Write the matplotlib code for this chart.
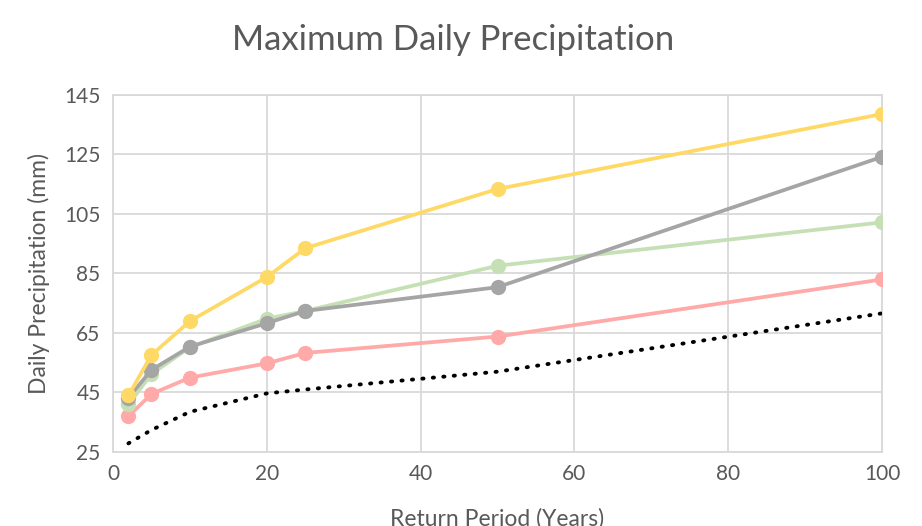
import matplotlib
matplotlib.use("Agg")
import matplotlib.pyplot as plt

# return periods (years) and maximum daily precipitation (mm) per series
return_period = [2, 5, 10, 20, 25, 50, 100]
series_pink = [37.0, 44.5, 50.0, 54.8, 58.3, 63.8, 83.0]
series_green = [41.0, 51.2, 60.2, 69.8, 72.4, 87.6, 102.2]
series_gray = [43.2, 52.6, 60.4, 68.3, 72.4, 80.4, 124.2]
series_yellow = [44.0, 57.6, 69.0, 83.8, 93.5, 113.4, 138.6]
baseline = [27.9, 32.4, 38.5, 44.7, 46.0, 52.0, 71.6]

y_ticks = [25, 45, 65, 85, 105, 125, 145]
x_ticks = [0, 20, 40, 60, 80, 100]

TEXT = "#595959"
GRID = "#d9d9d9"

plt.rcParams["font.family"] = ["Lato", "DejaVu Sans"]

fig = plt.figure(figsize=(9.22, 5.26), dpi=100)
ax = fig.add_axes([0.1226, 0.1407, 0.834, 0.6787])

styles = [
    (series_pink, "#ffa9a9"),
    (series_green, "#c5e0b4"),
    (series_gray, "#a5a5a5"),
    (series_yellow, "#ffd966"),
]
for values, color in styles:
    ax.plot(return_period, values, color=color, linewidth=2.7,
            marker="o", markersize=11, markeredgewidth=0, zorder=3,
            solid_capstyle="round")

ax.plot(return_period, baseline, color="black", linewidth=2.8,
        linestyle=(0, (0.3, 2.4)), dash_capstyle="round", zorder=4)

ax.set_xlim(0, 100)
ax.set_ylim(25, 145)
ax.set_xticks(x_ticks)
ax.set_yticks(y_ticks)
ax.grid(True, color=GRID, linewidth=1.3)
ax.set_axisbelow(True)
for spine in ax.spines.values():
    spine.set_color(GRID)
    spine.set_linewidth(1.3)
ax.tick_params(length=0, labelsize=15, colors=TEXT, pad=9)

ax.set_ylabel("Daily Precipitation (mm)", fontsize=16.5, color=TEXT, labelpad=10)
fig.text(0.539, 0.013, "Return Period (Years)", ha="center", va="center",
         fontsize=16.5, color=TEXT)
fig.text(0.492, 0.924, "Maximum Daily Precipitation", ha="center",
         va="center", fontsize=25, color=TEXT)

fig.savefig("out.png", dpi=100)
